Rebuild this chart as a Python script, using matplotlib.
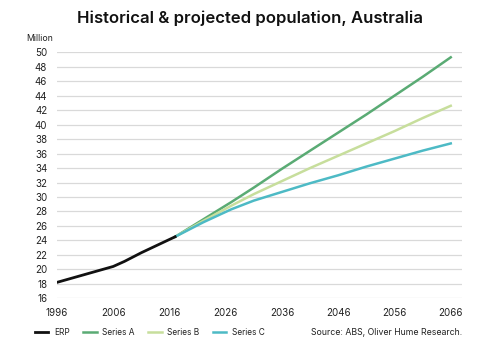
import matplotlib
matplotlib.use("Agg")
import matplotlib.pyplot as plt

# Data (millions)
erp_years = [1996, 2001, 2006, 2008, 2011, 2014, 2017]
erp_vals = [18.2, 19.3, 20.4, 21.1, 22.3, 23.4, 24.5]

proj_years = [2017, 2022, 2027, 2031, 2036, 2041, 2046, 2051, 2056, 2061, 2066]
series_a = [24.5, 26.9, 29.3, 31.3, 33.9, 36.4, 38.9, 41.4, 44.0, 46.6, 49.3]
series_b = [24.5, 26.7, 28.8, 30.4, 32.2, 34.0, 35.7, 37.4, 39.1, 40.9, 42.6]
series_c = [24.5, 26.5, 28.3, 29.5, 30.7, 31.9, 33.0, 34.2, 35.3, 36.4, 37.4]

x_ticks = [1996, 2006, 2016, 2026, 2036, 2046, 2056, 2066]
y_ticks = list(range(16, 51, 2))

colors = {"ERP": "#111111", "Series A": "#5aab74", "Series B": "#c7de9c", "Series C": "#4dbac5"}

plt.rcParams['font.family'] = ['Inter', 'DejaVu Sans']

fig = plt.figure(figsize=(5.0, 3.53), dpi=100)
ax = fig.add_axes([0.114, 0.155, 0.81, 0.697])

ax.plot(proj_years, series_a, color=colors["Series A"], lw=1.8, label="Series A", zorder=3)
ax.plot(proj_years, series_b, color=colors["Series B"], lw=1.8, label="Series B", zorder=3)
ax.plot(proj_years, series_c, color=colors["Series C"], lw=1.8, label="Series C", zorder=3)
ax.plot(erp_years, erp_vals, color=colors["ERP"], lw=2.0, label="ERP", zorder=4)

ax.set_xlim(1996, 2068)
ax.set_ylim(16, 50)
ax.set_yticks(y_ticks)
ax.set_xticks(x_ticks)
ax.set_xticklabels([str(t) for t in x_ticks], fontsize=7, color="#222222")
ax.set_yticklabels([str(t) for t in y_ticks], fontsize=7, color="#222222")
ax.tick_params(length=0)
ax.tick_params(axis='y', pad=7)
ax.tick_params(axis='x', pad=7)
ax.grid(axis='y', color="#d9d9d9", lw=0.9)
ax.set_axisbelow(True)
for s in ax.spines.values():
    s.set_visible(False)

fig.text(0.5, 0.948, "Historical & projected population, Australia", ha="center", va="center",
         fontsize=12.0, fontweight="semibold", color="#111111")
fig.text(0.052, 0.89, "Million", ha="left", va="center", fontsize=6.3, color="#222222")

handles, labels = ax.get_legend_handles_labels()
order = ["ERP", "Series A", "Series B", "Series C"]
hmap = dict(zip(labels, handles))
fig.legend([hmap[k] for k in order], order, loc="center left", bbox_to_anchor=(0.055, 0.057),
           ncol=4, frameon=False, fontsize=6, handlelength=1.6, handletextpad=0.7,
           columnspacing=1.6, labelcolor="#222222")

fig.text(0.924, 0.057, "Source: ABS, Oliver Hume Research.", ha="right", va="center",
         fontsize=6.3, color="#222222")

fig.savefig("out.png", dpi=100, facecolor="white")
